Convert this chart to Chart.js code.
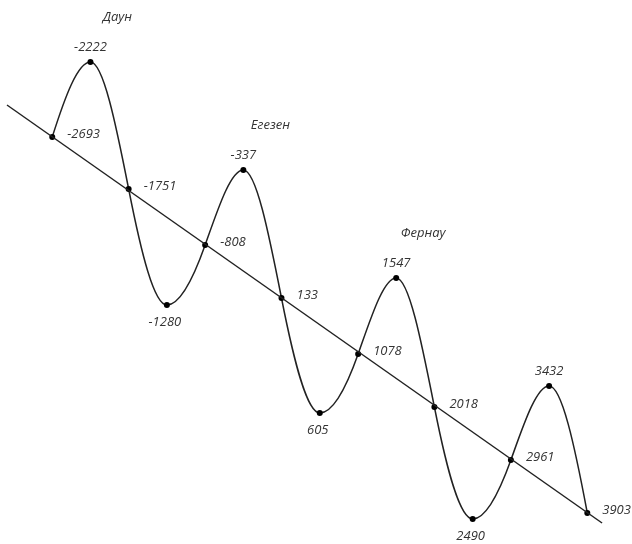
<!DOCTYPE html>
<html>
  <head>
    <meta charset="UTF-8" />
    <script src="https://cdn.jsdelivr.net/npm/chart.js"></script>
    <style>
      body {
        margin: 0;
        background: #fff;
      }
    </style>
  </head>
  <body>
    <canvas id="chart" width="632" height="544"></canvas>
    <script>
      // values
      const years = [-2693, -2222, -1751, -1280, -808, -337, 133, 605, 1078, 1547, 2018, 2490, 2961, 3432, 3903];
      const curve = [40.7, 48.2, 35.5, 23.9, 29.9, 37.4, 24.6, 13.1, 19.0, 26.6, 13.7, 2.5, 8.4, 15.8, 3.1];
      const trendYears = [-3251, 4085];
      const trendValues = [43.9, 2.1];
      const stageNames = ["Даун", "Егезен", "Фернау"];
      const stagePeaks = [-2222, -337, 1547];

      const textFont = "italic 13px 'Open Sans'";
      const textColor = "#333";

      // make the curve look like a wave: flat at peaks/troughs, steep at crossings
      const wavePlugin = {
        id: "wave",
        beforeDatasetDraw(chart, args) {
          if (args.index != 1) return;
          const meta = chart.getDatasetMeta(1);
          const line = meta.dataset;
          line.updateControlPoints(chart.chartArea, "x");
          const pts = meta.data;
          const n = pts.length;
          const k = 1.6;
          pts.forEach((p, i) => {
            let m = 0;
            if (i % 2 == 0) {
              const s = [];
              if (i > 0) s.push((p.y - pts[i - 1].y) / (p.x - pts[i - 1].x));
              if (i < n - 1) s.push((pts[i + 1].y - p.y) / (pts[i + 1].x - p.x));
              m = (k * s.reduce((a, b) => a + b, 0)) / s.length;
            }
            const dxPrev = i > 0 ? (p.x - pts[i - 1].x) / 3 : 0;
            const dxNext = i < n - 1 ? (pts[i + 1].x - p.x) / 3 : 0;
            p.cp1x = p.x - dxPrev;
            p.cp1y = p.y - m * dxPrev;
            p.cp2x = p.x + dxNext;
            p.cp2y = p.y + m * dxNext;
          });
          line._path = undefined;
        },
      };

      const labelPlugin = {
        id: "pointLabels",
        afterDatasetsDraw(chart) {
          const ctx = chart.ctx;
          const pts = chart.getDatasetMeta(1).data;
          ctx.save();
          ctx.font = textFont;
          ctx.fillStyle = textColor;
          ctx.textBaseline = "middle";
          pts.forEach((p, i) => {
            const label = String(years[i]);
            if (i % 2 == 0) {
              // on the trend line: text to the right
              ctx.textAlign = "left";
              ctx.fillText(label, p.x + 15, p.y - 3);
            } else if (i % 4 == 1) {
              ctx.textAlign = "center";
              ctx.fillText(label, p.x, p.y - 15);
            } else {
              ctx.textAlign = "center";
              ctx.fillText(label, p.x - 2, p.y + 17);
            }
          });
          stageNames.forEach((name, k) => {
            const i = years.indexOf(stagePeaks[k]);
            const p = pts[i];
            ctx.textAlign = "center";
            ctx.fillText(name, p.x + 27, p.y - 45);
          });
          ctx.restore();
        },
      };

      new Chart(document.getElementById("chart"), {
        type: "scatter",
        data: {
          datasets: [
            {
              label: "trend",
              data: trendYears.map((x, i) => ({ x: x, y: trendValues[i] })),
              showLine: true,
              borderColor: "#222",
              borderWidth: 1.5,
              pointRadius: 0,
            },
            {
              label: "curve",
              data: years.map((x, i) => ({ x: x, y: curve[i] })),
              showLine: true,
              cubicInterpolationMode: "monotone",
              borderColor: "#222",
              borderWidth: 1.5,
              pointRadius: 3,
              pointBackgroundColor: "#000",
              pointBorderColor: "#000",
              pointBorderWidth: 0,
            },
          ],
        },
        options: {
          responsive: false,
          animation: false,
          layout: { padding: 0, autoPadding: false },
          plugins: {
            legend: { display: false },
            tooltip: { enabled: false },
          },
          scales: {
            x: { type: "linear", min: -3337, max: 4454, display: false },
            y: { type: "linear", min: 0, max: 54.4, display: false },
          },
        },
        plugins: [wavePlugin, labelPlugin],
      });
    </script>
  </body>
</html>
